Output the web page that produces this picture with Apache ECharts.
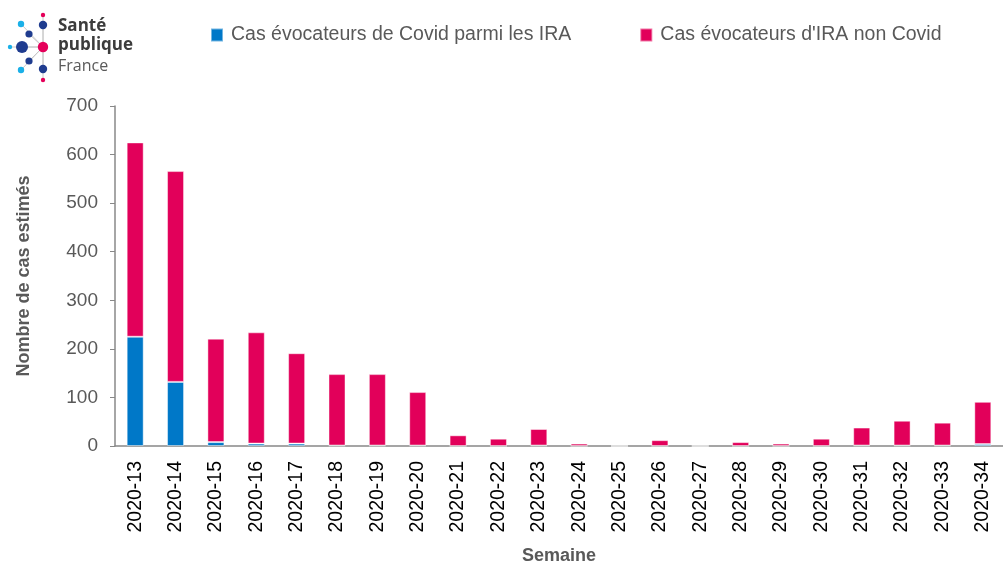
<!DOCTYPE html>
<html>
<head>
<meta charset="utf-8">
<script src="https://cdn.jsdelivr.net/npm/echarts@6/dist/echarts.min.js"></script>
<style>
  html, body { margin: 0; padding: 0; background: #fff; }
  #chart { width: 1003px; height: 570px; }
</style>
</head>
<body>
<div id="chart"></div>
<script>
var weeks = ['2020-13', '2020-14', '2020-15', '2020-16', '2020-17', '2020-18', '2020-19', '2020-20',
  '2020-21', '2020-22', '2020-23', '2020-24', '2020-25', '2020-26', '2020-27', '2020-28',
  '2020-29', '2020-30', '2020-31', '2020-32', '2020-33', '2020-34']
var covid = [225, 132, 8, 5, 5, 1, 1, 1, 0, 0, 1, 0, 0, 0, 0, 0, 0, 0, 1, 1, 1, 4]
var nonCovid = [400, 434, 213, 229, 186, 147, 147, 110, 22, 15, 34, 5, 0, 12, 0, 8, 5, 15, 37, 51, 47, 87]
var yTicks = [0, 100, 200, 300, 400, 500, 600, 700]

var chart = echarts.init(document.getElementById('chart'))

// logo: dots linked to the pink centre
var centre = [43, 47]
var dots = [
  [43, 15, 2.2, '#e5005a'], [21, 24, 3.2, '#1ab0e8'], [43, 25, 4.2, '#1f3c8f'],
  [29, 34, 3.6, '#1f3c8f'], [10, 47, 2.2, '#1ab0e8'], [22, 47, 6, '#1f3c8f'],
  [29, 61, 3.6, '#1f3c8f'], [21, 70, 3.2, '#1ab0e8'], [43, 69, 4.2, '#1f3c8f'],
  [43, 80, 2.2, '#e5005a']
]
var logo = []
dots.forEach(function (d) {
  logo.push({ type: 'line', shape: { x1: centre[0], y1: centre[1], x2: d[0], y2: d[1] },
    style: { stroke: '#c8c8c8', lineWidth: 1 }, z: 1 })
})
dots.forEach(function (d) {
  logo.push({ type: 'circle', shape: { cx: d[0], cy: d[1], r: d[2] }, style: { fill: d[3] }, z: 2 })
})
logo.push({ type: 'circle', shape: { cx: centre[0], cy: centre[1], r: 5.2 }, style: { fill: '#e5005a' }, z: 3 })
logo.push({ type: 'text', left: 58, top: 18, style: { text: 'Santé', fill: '#3c3c3c',
  font: 'bold 17px "Open Sans"' } })
logo.push({ type: 'text', left: 58, top: 37, style: { text: 'publique', fill: '#3c3c3c',
  font: 'bold 17px "Open Sans"' } })
logo.push({ type: 'text', left: 58, top: 58, style: { text: 'France', fill: '#5a5a5a',
  font: '16px "Open Sans"' } })

var option = {
  animation: false,
  textStyle: { fontFamily: 'Liberation Sans' },
  graphic: logo,
  legend: {
    left: 205,
    top: 20,
    itemWidth: 12,
    itemHeight: 13,
    itemGap: 68,
    icon: 'rect',
    textStyle: { fontSize: 19.5, color: '#595959', fontFamily: 'Liberation Sans', padding: [0, 0, 0, 3] },
    data: ['Cas évocateurs de Covid parmi les IRA', "Cas évocateurs d'IRA non Covid"]
  },
  grid: { left: 115, right: -4, top: 106, height: 346, containLabel: false },
  xAxis: {
    type: 'category',
    data: weeks,
    name: 'Semaine',
    nameLocation: 'middle',
    nameGap: 101,
    nameTextStyle: { fontSize: 18, fontWeight: 'bold', color: '#595959' },
    axisLine: { lineStyle: { color: '#888', width: 1.5 } },
    axisTick: { length: 5, lineStyle: { color: '#888' } },
    axisLabel: { rotate: 90, fontSize: 19.5, color: '#000', margin: 15, interval: 0 }
  },
  yAxis: {
    type: 'value',
    min: yTicks[0],
    max: yTicks[yTicks.length - 1],
    interval: 100,
    name: 'Nombre de cas estimés',
    nameLocation: 'middle',
    nameGap: 82,
    nameTextStyle: { fontSize: 18, fontWeight: 'bold', color: '#595959' },
    splitLine: { show: false },
    axisLine: { show: true, lineStyle: { color: '#888', width: 1.5 } },
    axisTick: { show: true, length: 5, lineStyle: { color: '#888' } },
    axisLabel: { fontSize: 19, color: '#595959', margin: 17 }
  },
  series: [
    {
      name: 'Cas évocateurs de Covid parmi les IRA',
      type: 'bar',
      stack: 'cas',
      barWidth: 17,
      data: covid,
      itemStyle: { color: '#0078c8', borderColor: 'rgba(255,255,255,0.45)', borderWidth: 1 }
    },
    {
      name: "Cas évocateurs d'IRA non Covid",
      type: 'bar',
      stack: 'cas',
      barWidth: 17,
      data: nonCovid,
      itemStyle: { color: '#e2005a', borderColor: 'rgba(255,255,255,0.45)', borderWidth: 1 }
    }
  ]
}

chart.setOption(option)
</script>
</body>
</html>
